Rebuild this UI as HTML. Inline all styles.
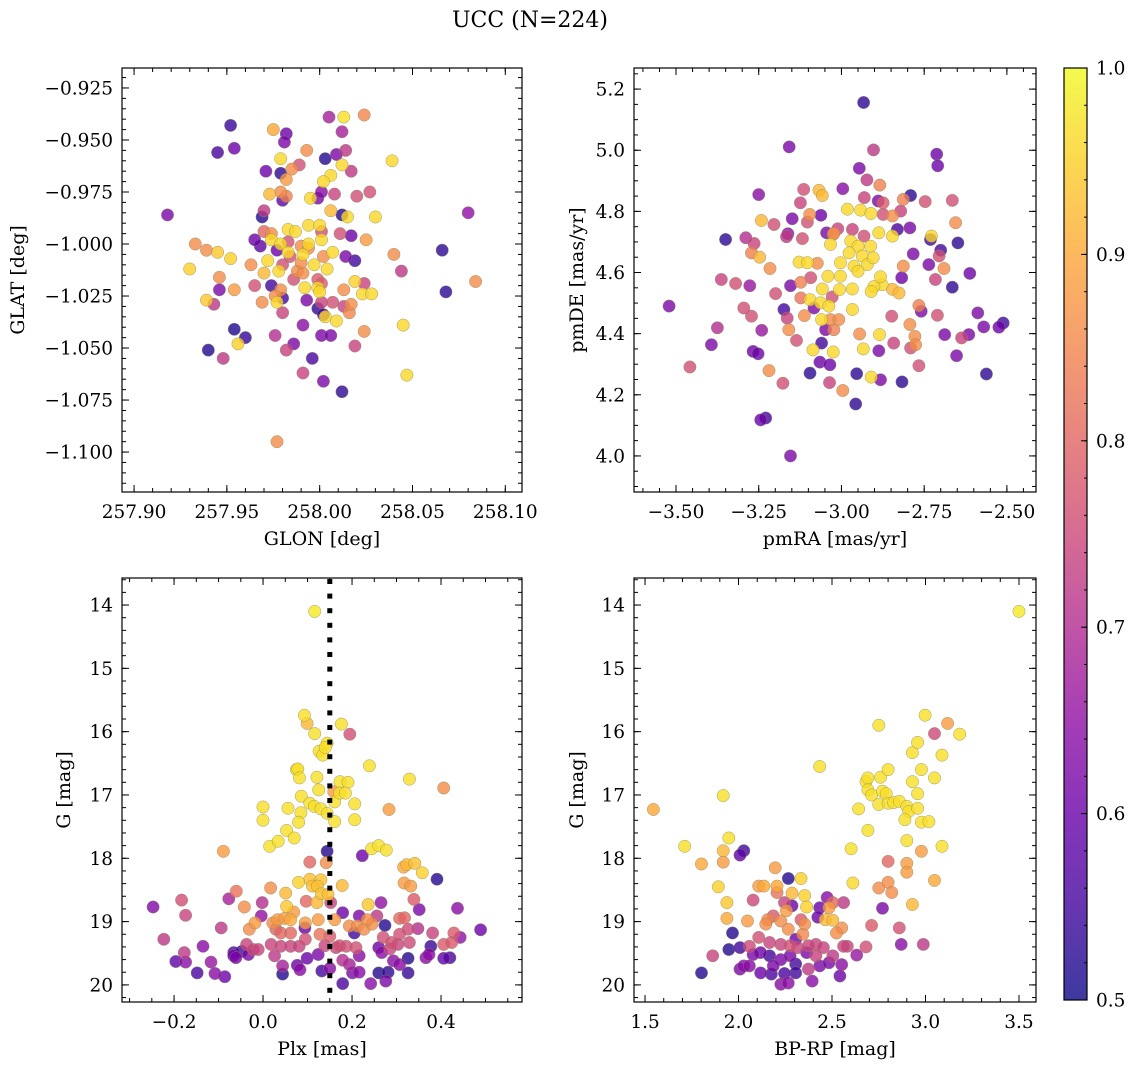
<!DOCTYPE html>
<html><head><meta charset="utf-8">
<style>
html,body{margin:0;padding:0;background:#fff;}
svg{display:block;font-family:"DejaVu Serif","Liberation Serif",serif;}
</style></head>
<body>
<svg id="fig" width="1136" height="1068" viewBox="0 0 1136 1068" xmlns="http://www.w3.org/2000/svg">
<defs>
<linearGradient id="cbgrad" x1="0" y1="1" x2="0" y2="0">
<stop offset="0" stop-color="#0d0887"/><stop offset="0.1" stop-color="#41049d"/><stop offset="0.2" stop-color="#6a00a8"/><stop offset="0.3" stop-color="#8f0da4"/><stop offset="0.4" stop-color="#b12a90"/><stop offset="0.5" stop-color="#cc4778"/><stop offset="0.6" stop-color="#e16462"/><stop offset="0.7" stop-color="#f2844b"/><stop offset="0.8" stop-color="#fca636"/><stop offset="0.9" stop-color="#fcce25"/><stop offset="1" stop-color="#f0f921"/>
</linearGradient>
</defs>
<text x="530" y="27" text-anchor="middle" font-size="22">UCC (N=224)</text>
</svg>
<script>
// ---------- Panel 1 data: GLON / GLAT ----------
const glon=[257.918,257.930,257.933,257.939,257.945,257.952,257.946,257.946,257.954,257.939,257.943,257.963,257.965,257.969,257.954,257.960,257.956,257.940,257.948,257.952,257.945,257.954,257.975,257.982,257.981,257.979,257.993,258.005,258.013,258.024,258.012,258.003,258.009,258.014,257.971,257.979,257.985,257.989,257.982,258.012,258.006,258.017,258.002,258.039,257.973,257.979,257.982,257.980,257.995,257.999,258.001,258.008,258.020,258.027,258.006,258.012,258.015,258.030,257.970,257.969,257.965,257.968,258.017,258.025,258.014,258.019,258.040,258.066,258.080,258.044,258.068,258.084,258.019,258.024,258.023,258.028,258.013,257.974,257.993,257.999,258.002,258.001,258.007,258.013,258.017,258.016,258.003,258.009,257.977,257.980,257.980,257.976,257.991,257.986,257.982,258.001,258.006,258.024,258.019,258.045,257.996,257.991,258.002,258.012,258.047,257.977,257.970,257.974,257.979,257.983,257.987,257.994,258.000,257.983,257.991,257.994,258.001,258.007,257.997,258.004,257.988,257.991,257.978,257.972,257.970,257.984,257.980,258.001,258.011,257.986,257.999,258.001,257.992,257.999,258.000,257.977,257.983,257.990,257.994,257.990,258.002,257.974,257.979,257.976];
const glat=[-0.986,-1.012,-1.000,-1.003,-1.004,-1.007,-1.016,-1.022,-1.022,-1.027,-1.029,-1.010,-1.020,-1.028,-1.041,-1.045,-1.048,-1.051,-1.055,-0.943,-0.956,-0.954,-0.945,-0.947,-0.951,-0.959,-0.955,-0.939,-0.939,-0.938,-0.946,-0.959,-0.957,-0.955,-0.965,-0.966,-0.964,-0.962,-0.969,-0.962,-0.967,-0.965,-0.970,-0.960,-0.976,-0.975,-0.977,-0.979,-0.978,-0.978,-0.975,-0.976,-0.977,-0.975,-0.984,-0.986,-0.987,-0.987,-0.984,-0.987,-0.998,-1.001,-0.996,-0.998,-1.006,-1.008,-1.005,-1.003,-0.985,-1.013,-1.023,-1.018,-1.018,-1.019,-1.024,-1.024,-1.022,-1.020,-1.027,-1.031,-1.034,-1.028,-1.028,-1.030,-1.029,-1.033,-1.035,-1.037,-1.028,-1.026,-1.033,-1.044,-1.039,-1.048,-1.051,-1.044,-1.044,-1.042,-1.049,-1.039,-1.055,-1.062,-1.066,-1.071,-1.063,-1.095,-0.994,-0.998,-1.000,-0.993,-0.994,-0.991,-0.991,-1.004,-1.005,-1.000,-0.998,-1.004,-1.010,-1.012,-1.013,-1.014,-1.013,-1.008,-1.014,-1.006,-1.010,-0.994,-0.995,-1.017,-1.017,-1.019,-1.021,-1.021,-1.023,-1.003,-0.999,-1.001,-1.002,-1.009,-1.006,-0.995,-1.022,-1.025];
const memb1=[0.62,0.95,0.86,0.86,0.94,0.95,0.86,0.62,0.88,0.94,0.72,0.86,0.76,0.86,0.52,0.54,0.95,0.52,0.72,0.54,0.56,0.60,0.90,0.60,0.62,0.96,0.86,0.68,0.97,0.85,0.68,0.52,0.62,0.72,0.60,0.53,0.86,0.76,0.88,0.96,0.96,0.72,0.96,0.96,0.92,0.86,0.84,0.58,0.96,0.62,0.64,0.74,0.76,0.76,0.92,0.52,0.96,0.96,0.72,0.52,0.60,0.58,0.60,0.88,0.62,0.55,0.86,0.53,0.65,0.72,0.53,0.86,0.95,0.74,0.96,0.96,0.86,0.55,0.62,0.53,0.56,0.74,0.76,0.74,0.86,0.85,0.96,0.96,0.96,0.55,0.74,0.70,0.64,0.62,0.74,0.62,0.62,0.86,0.74,0.96,0.56,0.74,0.62,0.53,0.96,0.86,0.80,0.96,0.96,0.96,0.96,0.96,0.96,0.96,0.96,0.96,0.96,0.96,0.96,0.96,0.86,0.86,0.96,0.96,0.92,0.76,0.76,0.76,0.76,0.76,0.78,0.78,0.96,0.96,0.96,0.60,0.76,0.86,0.86,0.86,0.86,0.86,0.86,0.86];

// ---------- Panel 2 data: pmRA / pmDE ----------
const pmra=[-2.933,-3.158,-2.903,-2.712,-2.709,-2.946,-2.923,-2.884,-2.996,-3.114,-3.068,-3.058,-3.250,-3.124,-2.931,-2.889,-2.874,-2.813,-2.791,-2.747,-2.665,-2.821,-2.846,-2.874,-2.982,-2.942,-2.911,-3.096,-3.062,-3.103,-3.242,-3.204,-3.149,-2.655,-2.793,-2.831,-2.887,-2.846,-3.011,-3.045,-3.025,-3.162,-3.166,-3.118,-3.350,-3.289,-3.264,-3.272,-3.247,-3.216,-3.363,-3.320,-3.277,-3.199,-3.521,-3.458,-3.375,-3.393,-3.295,-3.272,-3.241,-3.267,-3.252,-3.219,-3.177,-3.244,-3.229,-3.154,-3.174,-3.164,-3.136,-3.159,-3.112,-3.123,-3.154,-3.123,-3.093,-3.128,-3.103,-3.073,-3.095,-3.063,-3.038,-3.058,-3.083,-3.028,-3.060,-3.033,-3.008,-3.023,-3.048,-3.060,-3.086,-3.025,-3.065,-3.035,-3.095,-3.036,-2.996,-2.957,-2.954,-2.910,-2.882,-2.817,-2.934,-2.885,-2.945,-2.967,-2.887,-2.842,-2.848,-2.793,-2.778,-2.776,-2.791,-2.766,-2.766,-2.759,-2.710,-2.688,-2.652,-2.637,-2.615,-2.588,-2.570,-2.562,-2.524,-2.511,-2.612,-2.665,-2.648,-2.700,-2.705,-2.690,-2.736,-2.716,-2.728,-2.731,-2.783,-2.813,-2.818,-2.846,-2.826,-2.877,-2.902,-2.910,-2.882,-2.972,-2.950,-2.912,-2.977,-2.937,-2.922,-2.904,-2.962,-2.950,-3.003,-3.003,-2.967,-3.006,-3.033,-3.041,-2.967,-2.932,-3.023];
const pmde=[5.156,5.011,5.001,4.987,4.949,4.941,4.903,4.886,4.874,4.872,4.869,4.852,4.855,4.828,4.845,4.834,4.828,4.839,4.852,4.832,4.836,4.801,4.785,4.790,4.807,4.804,4.793,4.790,4.787,4.765,4.770,4.757,4.776,4.763,4.746,4.741,4.730,4.719,4.743,4.730,4.725,4.727,4.717,4.711,4.708,4.714,4.695,4.664,4.650,4.613,4.577,4.564,4.557,4.531,4.490,4.291,4.419,4.364,4.484,4.457,4.411,4.342,4.334,4.279,4.238,4.118,4.124,4.000,4.479,4.451,4.378,4.413,4.459,4.517,4.557,4.568,4.583,4.634,4.632,4.630,4.511,4.501,4.490,4.546,4.484,4.520,4.446,4.446,4.446,4.413,4.413,4.369,4.347,4.340,4.307,4.298,4.271,4.240,4.214,4.170,4.269,4.258,4.249,4.242,4.350,4.397,4.399,4.479,4.344,4.369,4.457,4.430,4.391,4.364,4.353,4.295,4.492,4.473,4.460,4.397,4.328,4.386,4.397,4.468,4.422,4.268,4.421,4.435,4.597,4.552,4.697,4.673,4.654,4.613,4.626,4.577,4.719,4.708,4.661,4.621,4.583,4.545,4.533,4.560,4.554,4.538,4.586,4.703,4.686,4.686,4.664,4.654,4.626,4.648,4.621,4.604,4.632,4.588,4.546,4.544,4.692,4.588,4.741,4.719,4.728];
const memb2=[0.53,0.62,0.72,0.60,0.60,0.62,0.72,0.84,0.64,0.76,0.92,0.92,0.64,0.74,0.74,0.62,0.78,0.84,0.53,0.76,0.76,0.74,0.86,0.76,0.96,0.96,0.96,0.86,0.60,0.76,0.92,0.76,0.62,0.86,0.62,0.56,0.96,0.96,0.74,0.62,0.86,0.65,0.72,0.76,0.53,0.70,0.74,0.84,0.92,0.86,0.74,0.76,0.66,0.76,0.62,0.76,0.70,0.62,0.76,0.76,0.66,0.60,0.60,0.86,0.76,0.60,0.55,0.62,0.55,0.74,0.76,0.86,0.86,0.82,0.62,0.84,0.76,0.96,0.96,0.86,0.96,0.96,0.96,0.96,0.62,0.76,0.96,0.86,0.86,0.84,0.62,0.55,0.96,0.96,0.60,0.60,0.53,0.74,0.86,0.53,0.53,0.96,0.62,0.53,0.96,0.96,0.86,0.96,0.62,0.74,0.76,0.86,0.86,0.86,0.76,0.76,0.84,0.62,0.76,0.62,0.62,0.74,0.62,0.62,0.62,0.53,0.60,0.55,0.60,0.53,0.53,0.55,0.76,0.86,0.62,0.74,0.96,0.55,0.62,0.86,0.60,0.92,0.92,0.96,0.96,0.96,0.96,0.96,0.96,0.96,0.96,0.96,0.96,0.96,0.96,0.96,0.96,0.96,0.96,0.96,0.96,0.96,0.74,0.76,0.86];

// ---------- Panel 3 data: Plx / G ----------
const plx=[-0.247,-0.223,-0.183,-0.174,-0.196,-0.174,-0.177,-0.148,-0.135,-0.117,-0.108,-0.086,-0.094,-0.089,-0.077,-0.060,-0.042,-0.066,-0.061,-0.033,-0.037,-0.022,-0.011,-0.031,-0.018,-0.002,-0.004,0.000,0.000,0.017,0.015,0.034,0.053,0.070,0.056,0.075,0.078,0.082,0.086,0.085,0.080,0.093,0.099,0.116,0.121,0.105,0.115,0.125,0.130,0.144,0.126,0.134,0.140,0.144,0.161,0.161,0.159,0.173,0.191,0.172,0.185,0.206,0.206,0.176,0.195,0.239,0.329,0.406,0.283,0.244,0.260,0.277,0.144,0.223,0.105,0.142,0.080,0.105,0.111,0.130,0.122,0.131,0.146,0.178,0.051,0.053,0.097,0.121,0.152,0.236,0.265,0.316,0.323,0.341,0.358,0.317,0.332,0.339,0.351,0.391,0.437,0.489,0.022,0.033,0.048,0.062,0.069,0.029,0.040,0.062,0.018,0.040,0.062,0.081,0.095,0.095,0.124,0.094,0.026,0.044,0.077,0.083,0.044,0.099,0.124,0.132,0.150,0.128,0.150,0.139,0.164,0.161,0.179,0.194,0.212,0.227,0.245,0.216,0.234,0.256,0.205,0.172,0.187,0.209,0.179,0.194,0.216,0.201,0.216,0.179,0.242,0.260,0.281,0.276,0.260,0.267,0.274,0.270,0.289,0.307,0.285,0.303,0.293,0.307,0.326,0.326,0.307,0.318,0.326,0.329,0.348,0.366,0.373,0.377,0.381,0.406,0.424,0.429,0.443,0.406,0.420,-0.066,-0.048,0.116];
const gmag3=[18.77,19.28,18.66,18.90,19.63,19.64,19.49,19.81,19.39,19.64,19.82,19.87,19.10,17.89,18.64,18.52,18.77,19.54,19.57,19.52,19.36,19.44,19.44,19.12,19.02,18.70,18.91,17.19,17.40,18.47,17.81,17.73,17.56,17.68,17.21,16.60,16.59,16.73,17.02,17.28,17.43,15.74,15.87,16.03,16.72,17.13,17.18,16.92,17.22,16.18,16.31,16.37,16.25,17.29,17.11,17.42,16.95,16.79,16.80,16.97,16.97,17.14,17.39,15.88,16.04,16.54,16.75,16.89,17.23,17.85,17.80,17.87,17.89,17.96,18.06,18.07,18.38,18.33,18.44,18.34,18.44,18.56,18.57,18.43,18.55,18.76,18.68,18.70,18.70,18.73,18.70,18.14,18.10,18.08,18.23,18.39,18.44,18.65,18.81,18.33,18.79,19.13,19.02,18.97,18.95,18.97,18.85,19.12,19.18,19.18,19.36,19.39,19.39,19.39,19.28,19.02,18.97,19.10,19.54,19.70,19.69,19.76,19.83,19.58,19.52,19.78,19.74,19.20,19.23,19.38,19.41,18.97,18.86,19.07,19.07,19.12,19.04,18.91,18.97,18.91,19.18,19.38,19.39,19.41,19.61,19.68,19.54,19.81,19.80,19.98,19.98,19.81,19.80,19.94,19.41,19.49,19.06,19.25,19.33,19.20,19.43,19.36,19.62,19.68,19.58,19.81,18.95,18.94,19.12,19.33,19.11,19.57,19.52,19.39,19.18,19.36,19.33,19.18,19.25,19.58,19.57,19.49,19.47,14.10];
const memb3=[0.63,0.72,0.76,0.74,0.58,0.64,0.72,0.56,0.64,0.66,0.64,0.60,0.72,0.88,0.68,0.82,0.86,0.60,0.62,0.62,0.74,0.74,0.74,0.86,0.88,0.70,0.65,0.97,0.97,0.86,0.97,0.97,0.97,0.97,0.97,0.97,0.97,0.97,0.97,0.97,0.97,0.97,0.92,0.97,0.97,0.97,0.97,0.97,0.97,0.97,0.97,0.97,0.97,0.97,0.97,0.97,0.88,0.97,0.97,0.97,0.97,0.97,0.97,0.97,0.76,0.97,0.97,0.86,0.88,0.97,0.97,0.97,0.52,0.60,0.80,0.86,0.95,0.93,0.93,0.93,0.93,0.93,0.93,0.92,0.92,0.94,0.80,0.92,0.74,0.94,0.65,0.90,0.92,0.93,0.95,0.88,0.88,0.78,0.62,0.52,0.64,0.60,0.86,0.88,0.88,0.90,0.88,0.80,0.80,0.80,0.74,0.74,0.74,0.74,0.76,0.88,0.88,0.60,0.72,0.68,0.60,0.64,0.52,0.60,0.62,0.55,0.64,0.82,0.78,0.74,0.74,0.88,0.60,0.86,0.86,0.86,0.86,0.62,0.86,0.72,0.55,0.76,0.76,0.76,0.70,0.68,0.64,0.62,0.64,0.56,0.64,0.52,0.53,0.62,0.60,0.64,0.52,0.76,0.76,0.76,0.74,0.74,0.64,0.64,0.52,0.54,0.80,0.80,0.75,0.75,0.70,0.64,0.64,0.54,0.74,0.78,0.78,0.78,0.65,0.58,0.56,0.56,0.55,0.98];

// ---------- Panel 4 data: BP-RP / G ----------
const bprp=[1.545,1.712,1.802,1.918,1.948,1.918,1.918,2.028,2.008,1.892,1.938,1.938,1.968,1.862,1.802,1.948,2.008,2.008,2.028,2.058,2.048,2.078,2.108,2.136,2.196,2.206,2.206,2.266,2.334,2.286,2.354,2.364,2.474,2.504,2.562,2.484,2.464,2.504,2.552,2.524,2.434,2.424,2.354,2.434,2.602,2.612,2.750,2.800,2.820,2.800,2.770,2.712,2.682,2.632,2.582,2.860,2.870,2.988,2.930,2.900,2.900,2.900,2.978,3.048,3.088,2.692,2.642,2.682,2.692,2.692,2.712,2.760,2.800,2.750,2.770,2.790,2.800,2.830,2.860,2.900,2.910,2.890,2.958,2.978,3.018,2.930,2.958,2.978,3.048,2.930,2.958,3.088,2.998,2.750,3.118,3.048,3.183,2.156,2.186,2.256,2.226,2.266,2.334,2.344,2.146,2.108,2.166,2.226,2.276,2.316,2.374,2.414,2.454,2.414,2.364,2.306,2.286,2.246,2.118,2.166,2.226,2.276,2.306,2.186,2.118,2.176,2.246,2.306,2.226,2.266,2.394,2.434,2.484,2.542,2.552,2.562,2.504,2.374,2.058,2.078,3.500];
const gmag4=[17.23,17.81,18.09,17.01,17.68,17.88,18.06,17.88,17.95,18.45,18.70,18.95,19.18,19.54,19.81,19.44,19.41,19.75,19.70,19.39,18.99,18.66,18.44,18.44,18.15,18.44,18.54,18.32,18.32,18.55,18.59,18.77,18.62,18.70,18.70,18.78,18.97,18.98,19.10,19.18,18.78,18.93,19.04,16.55,17.85,18.39,18.47,18.38,18.54,18.05,18.79,19.06,19.40,19.53,19.39,19.10,19.36,19.36,18.73,18.08,18.22,17.72,17.89,18.35,17.81,17.56,17.22,16.79,16.73,16.92,17.00,16.72,16.60,17.15,16.94,16.98,17.13,17.12,17.10,17.18,17.26,17.39,17.21,17.43,17.42,16.79,16.98,16.60,16.73,16.33,16.17,16.37,15.74,15.90,15.87,16.03,16.04,18.97,18.91,18.83,18.99,19.12,18.97,19.20,19.04,19.25,19.33,19.36,19.38,19.41,19.38,19.36,19.41,19.54,19.49,19.28,18.75,18.70,19.49,19.54,19.60,19.54,19.67,19.70,19.81,19.83,19.82,19.81,19.99,19.97,19.94,19.70,19.65,19.86,19.68,19.39,19.54,19.75,19.70,19.52,14.10];
const memb4=[0.90,0.97,0.90,0.97,0.97,0.92,0.88,0.55,0.58,0.95,0.94,0.90,0.52,0.74,0.52,0.52,0.55,0.62,0.64,0.75,0.88,0.75,0.88,0.90,0.88,0.90,0.82,0.52,0.95,0.92,0.95,0.95,0.64,0.80,0.72,0.88,0.92,0.92,0.86,0.86,0.60,0.60,0.86,0.97,0.97,0.96,0.86,0.86,0.86,0.80,0.62,0.78,0.76,0.66,0.74,0.76,0.64,0.72,0.92,0.88,0.88,0.97,0.88,0.90,0.97,0.97,0.97,0.97,0.97,0.97,0.97,0.97,0.97,0.97,0.97,0.97,0.97,0.97,0.97,0.97,0.97,0.97,0.97,0.97,0.97,0.97,0.97,0.97,0.97,0.97,0.97,0.97,0.97,0.97,0.88,0.75,0.97,0.85,0.78,0.88,0.86,0.86,0.78,0.85,0.86,0.76,0.74,0.74,0.76,0.74,0.74,0.74,0.74,0.74,0.62,0.60,0.60,0.74,0.60,0.55,0.62,0.62,0.55,0.62,0.60,0.56,0.56,0.55,0.64,0.64,0.64,0.62,0.62,0.60,0.64,0.74,0.72,0.72,0.64,0.62,0.98];

// ---------- Tick labels ----------
const p1xTicks=[257.90,257.95,258.00,258.05,258.10];
const p1yTicks=[-0.925,-0.950,-0.975,-1.000,-1.025,-1.050,-1.075,-1.100];
const p2xTicks=[-3.50,-3.25,-3.00,-2.75,-2.50];
const p2yTicks=[4.0,4.2,4.4,4.6,4.8,5.0,5.2];
const p3xTicks=[-0.2,0.0,0.2,0.4];
const gTicks=[14,15,16,17,18,19,20];
const p4xTicks=[1.5,2.0,2.5,3.0,3.5];
const cbTicks=[0.5,0.6,0.7,0.8,0.9,1.0];
const plxCut=0.15;

const NS="http://www.w3.org/2000/svg";
const svg=document.getElementById('fig');
const plasma=["#0d0887","#41049d","#6a00a8","#8f0da4","#b12a90","#cc4778","#e16462","#f2844b","#fca636","#fcce25","#f0f921"];
function hx(h){return [1,3,5].map(i=>parseInt(h.substr(i,2),16));}
function cmap(m){let t=Math.max(0,Math.min(1,(m-0.5)/0.5))*10;let i=Math.min(9,Math.floor(t));let f=t-i;
 const a=hx(plasma[i]),b=hx(plasma[i+1]);return 'rgb('+a.map((v,k)=>Math.round(v+(b[k]-v)*f)).join(',')+')';}
function el(tag,attrs,parent){const e=document.createElementNS(NS,tag);for(const k in attrs)e.setAttribute(k,attrs[k]);(parent||svg).appendChild(e);return e;}
function fmt(v,d){const s=Math.abs(v).toFixed(d);return (v<0?'\u2212':'')+s;}
const FS=18.5;

function panel(cfg){
 const g=el('g',{});
 
 
 const sx=v=>cfg.x0+(v-cfg.xd[0])/(cfg.xd[1]-cfg.xd[0])*(cfg.x1-cfg.x0);
 const sy=cfg.inv? (v=>cfg.y0+(v-cfg.yd[0])/(cfg.yd[1]-cfg.yd[0])*(cfg.y1-cfg.y0)) : (v=>cfg.y1-(v-cfg.yd[0])/(cfg.yd[1]-cfg.yd[0])*(cfg.y1-cfg.y0));
 const cid='clip'+cfg.name;
 const cp=el('clipPath',{id:cid},g);el('rect',{x:cfg.x0,y:cfg.y0,width:cfg.x1-cfg.x0,height:cfg.y1-cfg.y0},cp);
 const pts=el('g',{'clip-path':'url(#'+cid+')'},g);
 
 
 const idx=cfg.xs.map((_,i)=>i).sort((a,b)=>cfg.cs[a]-cfg.cs[b]);
 idx.forEach(i=>{
  const c=el('circle',{cx:sx(cfg.xs[i]).toFixed(1),cy:sy(cfg.ys[i]).toFixed(1),r:6.2,fill:cmap(cfg.cs[i]),'fill-opacity':0.8,stroke:'#8a8a6a','stroke-width':0.5,'stroke-opacity':0.8},pts);
  
  
 });
 if(cfg.vline!==undefined){
  const vg=el('g',{fill:'#000'},g);
  
  
  const X=sx(cfg.vline);
  for(let y=cfg.y0+1;y<cfg.y1-1;y+=14.6){
   el('rect',{x:(X-2.5).toFixed(1),y:y.toFixed(1),width:5,height:Math.min(5,cfg.y1-y).toFixed(1)},vg);
  }
 }
 const tk=el('g',{stroke:'#000','stroke-width':1},g);
 
 
 function xt(v,len){const X=sx(v);if(X<cfg.x0-0.5||X>cfg.x1+0.5)return;el('line',{x1:X,x2:X,y1:cfg.y1,y2:cfg.y1-len},tk);el('line',{x1:X,x2:X,y1:cfg.y0,y2:cfg.y0+len},tk);}
 function yt(v,len){const Y=sy(v);if(Y<cfg.y0-0.5||Y>cfg.y1+0.5)return;el('line',{x1:cfg.x0,x2:cfg.x0+len,y1:Y,y2:Y},tk);el('line',{x1:cfg.x1,x2:cfg.x1-len,y1:Y,y2:Y},tk);}
 const lo=Math.min(...cfg.xd),hi=Math.max(...cfg.xd);
 for(let k=Math.ceil(lo/cfg.xm-1e-6);k*cfg.xm<=hi;k++)xt(k*cfg.xm,4);
 const ylo=Math.min(...cfg.yd),yhi=Math.max(...cfg.yd);
 for(let k=Math.ceil(ylo/cfg.ym-1e-6);k*cfg.ym<=yhi;k++)yt(k*cfg.ym,4);
 cfg.xt.forEach(v=>{xt(v,7);const t=el('text',{x:sx(v),y:cfg.y1+26,'text-anchor':'middle','font-size':FS},g);t.textContent=fmt(v,cfg.xdp);});
 cfg.yt.forEach(v=>{yt(v,7);const t=el('text',{x:cfg.x0-9,y:sy(v)+6.5,'text-anchor':'end','font-size':FS},g);t.textContent=fmt(v,cfg.ydp);});
 const fr=el('rect',{x:cfg.x0,y:cfg.y0,width:cfg.x1-cfg.x0,height:cfg.y1-cfg.y0,fill:'none',stroke:'#000','stroke-width':1.2},g);
 
 
 const xl=el('text',{x:(cfg.x0+cfg.x1)/2,y:cfg.y1+53,'text-anchor':'middle','font-size':19},g);xl.textContent=cfg.xlabel;
 
 
 const yl=el('text',{x:0,y:0,'text-anchor':'middle','font-size':19,transform:'translate('+cfg.ylx+','+((cfg.y0+cfg.y1)/2)+') rotate(-90)'},g);yl.textContent=cfg.ylabel;
 
 
}

panel({name:'glon-glat-panel',x0:122,x1:522,y0:68,y1:492,xd:[257.8935,258.109],yd:[-1.1192,-0.9154],xs:glon,ys:glat,cs:memb1,xt:p1xTicks,yt:p1yTicks,xdp:2,ydp:3,xm:0.01,ym:0.005,xlabel:'GLON [deg]',ylabel:'GLAT [deg]',ylx:24});
panel({name:'pm-panel',x0:634,x1:1036,y0:68,y1:492,xd:[-3.627,-2.412],yd:[3.882,5.269],xs:pmra,ys:pmde,cs:memb2,xt:p2xTicks,yt:p2yTicks,xdp:2,ydp:1,xm:0.05,ym:0.05,xlabel:'pmRA [mas/yr]',ylabel:'pmDE [mas/yr]',ylx:583});
panel({name:'plx-g-panel',x0:122,x1:522,y0:578,y1:1002,xd:[-0.317,0.582],yd:[13.573,20.27],inv:true,xs:plx,ys:gmag3,cs:memb3,xt:p3xTicks,yt:gTicks,xdp:1,ydp:0,xm:0.05,ym:0.2,xlabel:'Plx [mas]',ylabel:'G [mag]',ylx:70,vline:plxCut});
panel({name:'cmd-panel',x0:634,x1:1036,y0:578,y1:1002,xd:[1.441,3.591],yd:[13.573,20.27],inv:true,xs:bprp,ys:gmag4,cs:memb4,xt:p4xTicks,yt:gTicks,xdp:1,ydp:0,xm:0.1,ym:0.2,xlabel:'BP-RP [mag]',ylabel:'G [mag]',ylx:583});

// ---------- Colorbar ----------
(function(){
 const g=el('g',{});
 
 
 const x0=1064,x1=1087,y0=68,y1=1000;
 el('rect',{x:x0,y:y0,width:x1-x0,height:y1-y0,fill:'url(#cbgrad)','fill-opacity':0.8},g);
 const cy=v=>y1-(v-0.5)/0.5*(y1-y0);
 for(let k=25;k<=50;k++){const Y=cy(k*0.02);el('line',{x1:x1,x2:x1-3,y1:Y,y2:Y,stroke:'#000','stroke-width':1},g);}
 cbTicks.forEach(v=>{const Y=cy(v);el('line',{x1:x1,x2:x1-6,y1:Y,y2:Y,stroke:'#000','stroke-width':1},g);
  const t=el('text',{x:x1+9,y:Y+6.5,'font-size':FS},g);t.textContent=v.toFixed(1);
  
  });
 el('rect',{x:x0,y:y0,width:x1-x0,height:y1-y0,fill:'none',stroke:'#000','stroke-width':1.2},g);
})();
</script>
</body></html>
